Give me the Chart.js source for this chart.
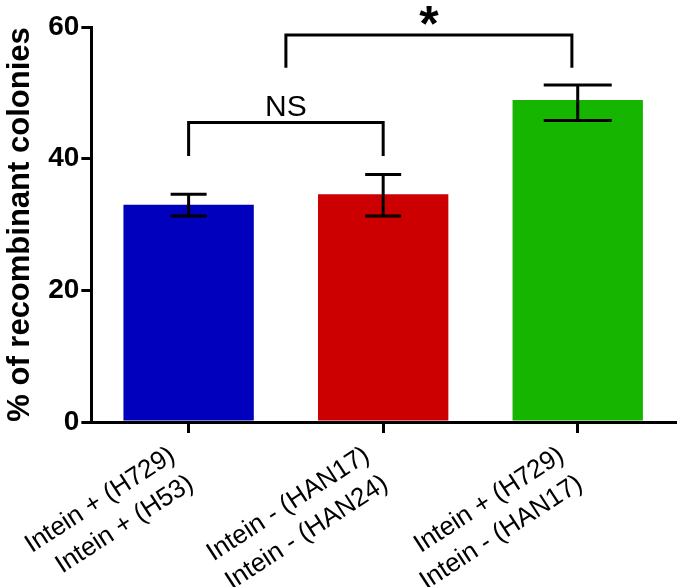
<!DOCTYPE html>
<html><head><meta charset="utf-8">
<script src="https://cdn.jsdelivr.net/npm/chart.js@4"></script>
<style>html,body{margin:0;padding:0;background:#fff}#wrap{width:677px;height:587px}</style>
</head><body><div id="wrap"><canvas id="c" width="677" height="587"></canvas></div>
<script>
// ---- data ----
const categories = [
  ["Intein + (H729)", "Intein + (H53)"],
  ["Intein - (HAN17)", "Intein - (HAN24)"],
  ["Intein + (H729)", "Intein - (HAN17)"]
];
const means   = [33.0, 34.6, 48.9];
const errLow  = [31.3, 31.3, 45.8];
const errHigh = [34.6, 37.6, 51.2];
const yTicks  = [0, 20, 40, 60];
const yTitle  = "% of recombinant colonies";
// significance brackets (category index positions, values in y units)
const bracketLabels = ["NS", "*"];
const bracketFrom   = [0, 0.5];
const bracketTo     = [1, 1.97];
const bracketTop    = [45.5, 58.8];
const bracketLeg    = [40.4, 53.8];

// ---- styles ----
const barColors = ["#0000BD", "#CC0000", "#15B500"];
const capWidths = [36, 36, 68];
const FONT = "'Liberation Sans', Arial, Helvetica, sans-serif";

const annot = {
  id: 'annot',
  afterDatasetsDraw(chart) {
    const ctx = chart.ctx, x = chart.scales.x, y = chart.scales.y;
    ctx.save();
    ctx.strokeStyle = '#000';
    ctx.lineWidth = 3;
    ctx.lineCap = 'butt';
    // error bars
    means.forEach((m, i) => {
      const cx = x.getPixelForValue(i);
      const yl = y.getPixelForValue(errLow[i]);
      const yh = y.getPixelForValue(errHigh[i]);
      const hw = capWidths[i] / 2;
      ctx.beginPath();
      ctx.moveTo(cx, yl); ctx.lineTo(cx, yh);
      ctx.moveTo(cx - hw, yl); ctx.lineTo(cx + hw, yl);
      ctx.moveTo(cx - hw, yh); ctx.lineTo(cx + hw, yh);
      ctx.stroke();
    });
    // brackets
    bracketLabels.forEach((lab, i) => {
      const x1 = x.getPixelForValue(bracketFrom[i]);
      const x2 = x.getPixelForValue(bracketTo[i]);
      const yt = y.getPixelForValue(bracketTop[i]);
      const yb = y.getPixelForValue(bracketLeg[i]);
      ctx.beginPath();
      ctx.moveTo(x1, yb); ctx.lineTo(x1, yt); ctx.lineTo(x2, yt); ctx.lineTo(x2, yb);
      ctx.stroke();
      ctx.fillStyle = '#000';
      ctx.textAlign = 'center';
      ctx.textBaseline = 'alphabetic';
      if (lab === '*') {
        ctx.font = 'bold 50px ' + FONT;
        ctx.fillText(lab, (x1 + x2) / 2, yt + 6);
      } else {
        ctx.font = '30px ' + FONT;
        ctx.fillText(lab, (x1 + x2) / 2, yt - 6);
      }
    });
    ctx.restore();
  }
};

new Chart(document.getElementById('c'), {
  type: 'bar',
  data: {
    labels: categories,
    datasets: [{
      data: means,
      backgroundColor: barColors,
      borderWidth: 0,
      categoryPercentage: 1.0,
      barPercentage: 0.67
    }]
  },
  options: {
    responsive: false,
    animation: false,
    layout: { padding: { left: 2, right: 2, top: 27, bottom: -17 } },
    plugins: { legend: { display: false }, tooltip: { enabled: false } },
    scales: {
      x: {
        offset: true,
        grid: { offset: false, drawOnChartArea: false, drawTicks: true, tickLength: 11, lineWidth: 3, color: '#000' },
        border: { display: true, width: 3, color: '#000' },
        ticks: { color: '#000', font: { family: FONT, size: 26, lineHeight: 1.3 }, minRotation: 33, maxRotation: 33, padding: 6, labelOffset: -16, autoSkip: false }
      },
      y: {
        min: 0, max: 60,
        afterBuildTicks(s) { s.ticks = yTicks.map(v => ({ value: v })); },
        grid: { drawOnChartArea: false, drawTicks: true, tickLength: 10, lineWidth: 3, color: '#000' },
        border: { display: true, width: 3, color: '#000' },
        ticks: { color: '#000', font: { family: FONT, size: 28, weight: 'bold' }, padding: 2 },
        title: { display: true, text: yTitle, color: '#000', font: { family: FONT, size: 31, weight: 'bold' }, padding: { top: 0, bottom: 7 } }
      }
    }
  },
  plugins: [annot]
});
</script>
</body></html>
